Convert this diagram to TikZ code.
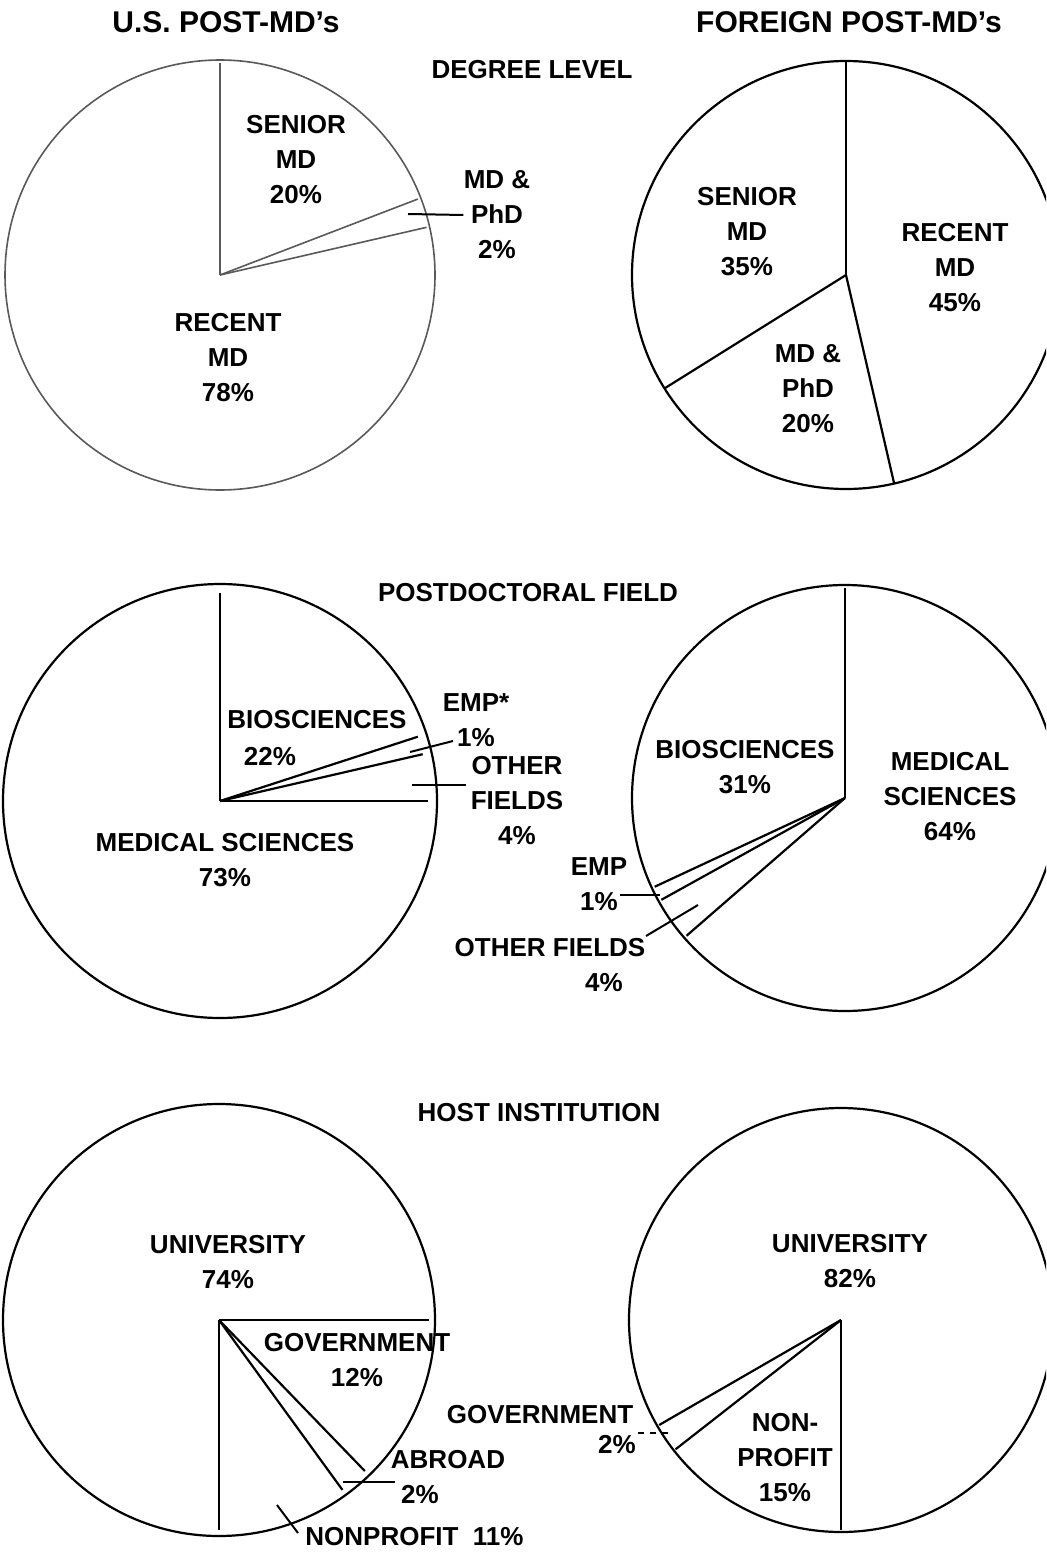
\documentclass[tikz,border=0pt]{standalone}
\usepackage{fontspec}
\setmainfont{Liberation Sans}
\usepackage{tikz}
\usetikzlibrary{positioning}

\tikzset{
  pie/.style={line width=1.1pt},
  worn/.style={line width=0.8pt, black!65},
  leader/.style={line width=1pt},
  lbl/.style={font=\bfseries\fontsize{13}{17.5}\selectfont, align=center, inner sep=0pt},
  head/.style={font=\bfseries\fontsize{13}{16}\selectfont, inner sep=0pt},
  ttl/.style={font=\bfseries\fontsize{15}{18}\selectfont, inner sep=0pt}
}

\begin{document}
\begin{tikzpicture}[x=0.5pt, y=0.5pt]
\clip (0,0) rectangle (1046,-1552);

%Titles
\node[ttl] (ustitle) at (226,-22) {U.S. POST-MD's};
\node[ttl] (fotitle) at (849,-22) {FOREIGN POST-MD's};

%Degree level
\node[head] (deghead) at (532,-70) {DEGREE LEVEL};
\begin{scope}[shift={(220,-275)}]
  \draw[worn] (0,0) circle (215);
  \foreach \a in {90,21,13} {
    \draw[worn] (0,0) -- (\a:212);
  }
\end{scope}
\node[lbl] (usdsen) at (296,-160) {SENIOR\\MD\\20\%};
\node[lbl] (usdphd) at (497,-215) {MD \&\\PhD\\2\%};
\node[lbl] (usdrec) at (228,-358) {RECENT\\MD\\78\%};
\coordinate (usdphd-in) at (408,-214);
\draw[leader] (usdphd-in) -- (usdphd.west);

\begin{scope}[shift={(846,-275)}]
  \draw[pie] (0,0) circle (214);
  \foreach \a in {90,212,283} {
    \draw[pie] (0,0) -- (\a:214);
  }
\end{scope}
\node[lbl] (fodsen) at (747,-232) {SENIOR\\MD\\35\%};
\node[lbl] (fodrec) at (955,-268) {RECENT\\MD\\45\%};
\node[lbl] (fodphd) at (808,-389) {MD \&\\PhD\\20\%};

%Postdoctoral field
\node[head] (fldhead) at (528,-593) {POSTDOCTORAL FIELD};
\begin{scope}[shift={(220,-801)}]
  \draw[pie] (0,0) circle (217);
  \foreach \a in {90,18,13,0} {
    \draw[pie] (0,0) -- (\a:208);
  }
\end{scope}
\node[lbl] (usfbio) at (317,-720) {BIOSCIENCES};
\node[lbl] (usfbiop) at (270,-757) {22\%};
\node[lbl] (usfemp) at (476,-720) {EMP*\\1\%};
\node[lbl] (usfoth) at (517,-801) {OTHER\\FIELDS\\4\%};
\node[lbl] (usfmed) at (225,-860) {MEDICAL SCIENCES\\73\%};
\coordinate (usfemp-in) at (410,-752);
\coordinate (usfemp-out) at (453,-741);
\draw[leader] (usfemp-in) -- (usfemp-out);
\coordinate (usfoth-in) at (412,-785);
\coordinate (usfoth-out) at (466,-785);
\draw[leader] (usfoth-in) -- (usfoth-out);

\begin{scope}[shift={(845,-798)}]
  \draw[pie] (0,0) circle (213);
  \foreach \a in {90,205,209,221} {
    \draw[pie] (0,0) -- (\a:210);
  }
\end{scope}
\node[lbl] (fofbio) at (745,-767) {BIOSCIENCES\\31\%};
\node[lbl] (fofmed) at (950,-797) {MEDICAL\\SCIENCES\\64\%};
\node[lbl] (fofemp) at (599,-884) {EMP\\1\%};
\node[lbl] (fofoth) at (550,-948) {OTHER FIELDS};
\node[lbl] (fofothp) at (604,-983) {4\%};
\coordinate (fofemp-out) at (620,-895);
\coordinate (fofemp-in) at (660,-895);
\draw[leader] (fofemp-out) -- (fofemp-in);
\coordinate (fofoth-out) at (646,-936);
\coordinate (fofoth-in) at (698,-905);
\draw[leader] (fofoth-out) -- (fofoth-in);

%Host institution
\node[head] (hosthead) at (539,-1113) {HOST INSTITUTION};
\begin{scope}[shift={(219,-1320)}]
  \draw[pie] (0,0) circle (216);
  \foreach \a in {0,-46,-54,-90} {
    \draw[pie] (0,0) -- (\a:210);
  }
\end{scope}
\node[lbl] (ushuni) at (228,-1262) {UNIVERSITY\\74\%};
\node[lbl] (ushgov) at (357,-1360) {GOVERNMENT\\12\%};
\node[lbl] (ushabr) at (448,-1460) {ABROAD};
\node[lbl] (ushabrp) at (420,-1495) {2\%};
\node[lbl, anchor=west] (ushnon) at (305,-1537) {NONPROFIT\ \ 11\%};
\coordinate (ushabr-in) at (343,-1482);
\coordinate (ushabr-out) at (395,-1482);
\draw[leader] (ushabr-in) -- (ushabr-out);
\coordinate (ushnon-in) at (277,-1505);
\coordinate (ushnon-out) at (298,-1533);
\draw[leader] (ushnon-in) -- (ushnon-out);

\begin{scope}[shift={(841,-1320)}]
  \draw[pie] (0,0) circle (212);
  \foreach \a in {-90,210,218} {
    \draw[pie] (0,0) -- (\a:210);
  }
\end{scope}
\node[lbl] (fohuni) at (850,-1261) {UNIVERSITY\\82\%};
\node[lbl] (fohnon) at (785,-1458) {NON-\\PROFIT\\15\%};
\node[lbl] (fohgov) at (540,-1415) {GOVERNMENT};
\node[lbl] (fohgovp) at (617,-1445) {2\%};
\coordinate (fohgov-out) at (638,-1433);
\coordinate (fohgov-in) at (673,-1433);
\draw[leader, dashed] (fohgov-out) -- (fohgov-in);
\end{tikzpicture}
\end{document}
